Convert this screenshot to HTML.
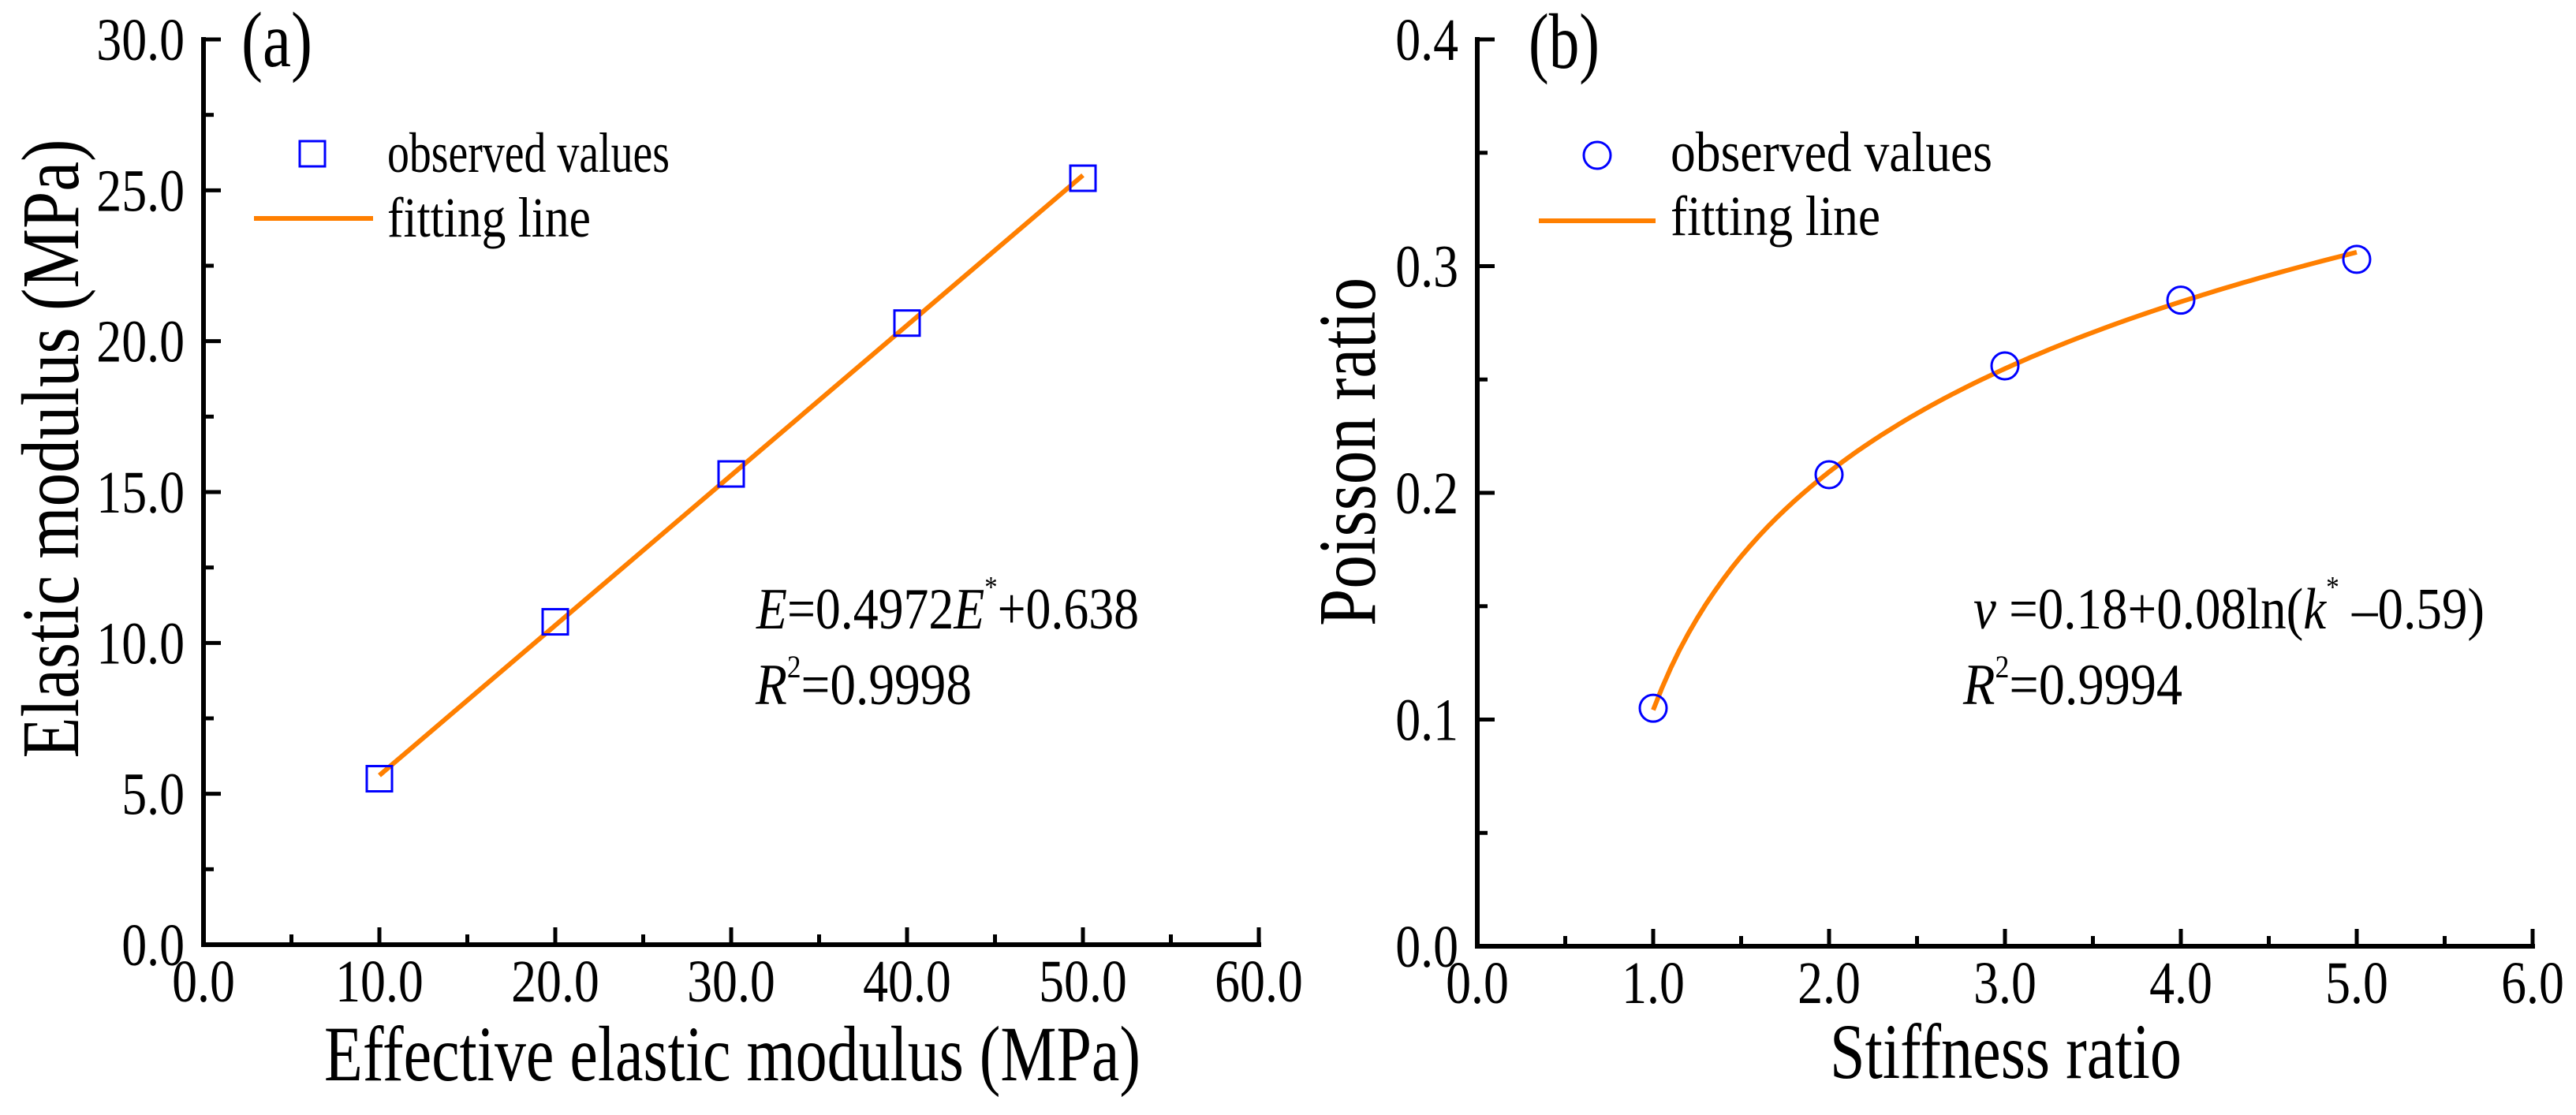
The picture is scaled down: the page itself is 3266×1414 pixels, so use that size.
<!DOCTYPE html>
<html><head><meta charset="utf-8">
<style>
html,body{margin:0;padding:0;background:#fff;}
svg{display:block;}
text{font-family:"Liberation Serif",serif;fill:#000;}
</style></head>
<body>
<svg id="fig" xmlns="http://www.w3.org/2000/svg" width="3266" height="1414" viewBox="0 0 3266 1414">
  <g id="pa"></g>
  <g id="pb"></g>

  <text x="306" y="84" font-size="100" textLength="90" lengthAdjust="spacingAndGlyphs">(a)</text>
  <text transform="translate(99,569) rotate(-90)" text-anchor="middle" font-size="104" textLength="785" lengthAdjust="spacingAndGlyphs">Elastic modulus (MPa)</text>
  <text x="411" y="1370" font-size="100" textLength="1035" lengthAdjust="spacingAndGlyphs">Effective elastic modulus (MPa)</text>
  <rect x="380" y="179" width="32" height="32" fill="none" stroke="#0000ff" stroke-width="3"/>
  <text x="491" y="218" font-size="72" textLength="358" lengthAdjust="spacingAndGlyphs">observed values</text>
  <line x1="322" y1="277" x2="473" y2="277" stroke="#ff7f00" stroke-width="6"/>
  <text x="491" y="300" font-size="72" textLength="258" lengthAdjust="spacingAndGlyphs">fitting line</text>
  <text x="959" y="797" font-size="74" textLength="485" lengthAdjust="spacingAndGlyphs"><tspan font-style="italic">E</tspan>=0.4972<tspan font-style="italic">E</tspan><tspan font-size="38" dy="-40">*</tspan><tspan dy="40">+0.638</tspan></text>
  <text x="958" y="893" font-size="74" textLength="274" lengthAdjust="spacingAndGlyphs"><tspan font-style="italic">R</tspan><tspan font-size="40" dy="-34">2</tspan><tspan dy="34">=0.9998</tspan></text>

  <text x="1938" y="86" font-size="100" textLength="90" lengthAdjust="spacingAndGlyphs">(b)</text>
  <text transform="translate(1743,573) rotate(-90)" text-anchor="middle" font-size="104" textLength="442" lengthAdjust="spacingAndGlyphs">Poisson ratio</text>
  <text x="2320" y="1367" font-size="100" textLength="446" lengthAdjust="spacingAndGlyphs">Stiffness ratio</text>
  <circle cx="2025" cy="197" r="17" fill="none" stroke="#0000ff" stroke-width="3"/>
  <text x="2118" y="217" font-size="72" textLength="408" lengthAdjust="spacingAndGlyphs">observed values</text>
  <line x1="1951" y1="280" x2="2099" y2="280" stroke="#ff7f00" stroke-width="6"/>
  <text x="2118" y="298" font-size="72" textLength="266" lengthAdjust="spacingAndGlyphs">fitting line</text>
  <text x="2502" y="797" font-size="74" textLength="648" lengthAdjust="spacingAndGlyphs"><tspan font-style="italic">ν</tspan> =0.18+0.08ln(<tspan font-style="italic">k</tspan><tspan font-size="38" dy="-40">*</tspan><tspan dy="40"> –0.59)</tspan></text>
  <text x="2489" y="893" font-size="74" textLength="278" lengthAdjust="spacingAndGlyphs"><tspan font-style="italic">R</tspan><tspan font-size="40" dy="-34">2</tspan><tspan dy="34">=0.9994</tspan></text>
</svg>
<script>
// ---- panel (a) data ----
const aX = [10, 20, 30, 40, 50];
const aY = [5.5, 10.7, 15.6, 20.6, 25.4];
const aFit = [0.4972, 0.638];          // slope, intercept
const aFitRange = [10, 50];
const aXTicks = ["0.0","10.0","20.0","30.0","40.0","50.0","60.0"];
const aYTicks = ["0.0","5.0","10.0","15.0","20.0","25.0","30.0"];
// ---- panel (b) data ----
const bX = [1, 2, 3, 4, 5];
const bY = [0.105, 0.208, 0.256, 0.285, 0.303];
const bFit = [0.18, 0.085, 0.59];       // a + b ln(k - c), as drawn
const bFitRange = [1, 5];
const bXTicks = ["0.0","1.0","2.0","3.0","4.0","5.0","6.0"];
const bYTicks = ["0.0","0.1","0.2","0.3","0.4"];

const NS = "http://www.w3.org/2000/svg";
function mk(tag, attrs, parent){
  const e = document.createElementNS(NS, tag);
  for (const k in attrs) e.setAttribute(k, attrs[k]);
  parent.appendChild(e);
  return e;
}
function label(g, txt, x, y, anchor){
  const l = mk("text", {transform:`translate(${x},${y}) scale(0.84,1)`, "text-anchor":anchor, "font-size":76}, g);
  l.textContent = txt;
  return l;
}

function axes(g, cfg){
  const {x0,x1,y0,y1,xmin,xmax,ymin,ymax,xTicks,yTicks,tag} = cfg;
  const sx = v => x0 + (v - xmin) / (xmax - xmin) * (x1 - x0);
  const sy = v => y0 - (v - ymin) / (ymax - ymin) * (y0 - y1);
  const ax = mk("path", {d:`M${x0},${y1} L${x0},${y0} L${x1},${y0}`, fill:"none", stroke:"#000", "stroke-width":6, "stroke-linecap":"square"}, g);
  
  
  const nx = xTicks.length - 1;
  for (let i = 0; i <= nx * 2; i++){
    const v = xmin + (xmax - xmin) * i / (nx * 2);
    const major = i % 2 === 0;
    const t = mk("line", {x1:sx(v), x2:sx(v), y1:y0, y2:y0 - (major ? 22 : 13), stroke:"#000", "stroke-width":5}, g);
    
    
    if (major){
      const l = label(g, xTicks[i/2], sx(v), y0 + 72, "middle");
      
      
    }
  }
  const ny = yTicks.length - 1;
  for (let i = 0; i <= ny * 2; i++){
    const v = ymin + (ymax - ymin) * i / (ny * 2);
    const major = i % 2 === 0;
    const t = mk("line", {x1:x0, x2:x0 + (major ? 22 : 13), y1:sy(v), y2:sy(v), stroke:"#000", "stroke-width":5}, g);
    
    
    if (major){
      const l = label(g, yTicks[i/2], x0 - 24, sy(v) + 26, "end");
      
      
    }
  }
  return {sx, sy};
}

const ga = document.getElementById("pa");
const A = axes(ga, {x0:258,x1:1596,y0:1198,y1:50,xmin:0,xmax:60,ymin:0,ymax:30,xTicks:aXTicks,yTicks:aYTicks,tag:"a"});
{
  const f = x => aFit[0]*x + aFit[1];
  const p = mk("path", {d:`M${A.sx(aFitRange[0])},${A.sy(f(aFitRange[0]))} L${A.sx(aFitRange[1])},${A.sy(f(aFitRange[1]))}`, stroke:"#ff7f00", "stroke-width":6, fill:"none"}, ga);
  
  
  aX.forEach((x, i) => {
    const r = mk("rect", {x:A.sx(x)-16, y:A.sy(aY[i])-16, width:32, height:32, fill:"none", stroke:"#0000ff", "stroke-width":3}, ga);
    
    
  });
}
const gb = document.getElementById("pb");
const B = axes(gb, {x0:1873,x1:3211,y0:1200,y1:50,xmin:0,xmax:6,ymin:0,ymax:0.4,xTicks:bXTicks,yTicks:bYTicks,tag:"b"});
{
  const f = k => bFit[0] + bFit[1]*Math.log(k - bFit[2]);
  let d = "";
  const n = 80;
  for (let i = 0; i <= n; i++){
    const k = bFitRange[0] + (bFitRange[1]-bFitRange[0]) * i / n;
    d += (i ? " L" : "M") + B.sx(k).toFixed(1) + "," + B.sy(f(k)).toFixed(1);
  }
  const p = mk("path", {d, stroke:"#ff7f00", "stroke-width":6, fill:"none"}, gb);
  
  
  bX.forEach((x, i) => {
    const c = mk("circle", {cx:B.sx(x), cy:B.sy(bY[i]), r:17, fill:"none", stroke:"#0000ff", "stroke-width":3}, gb);
    
    
  });
}
</script>
</body></html>
